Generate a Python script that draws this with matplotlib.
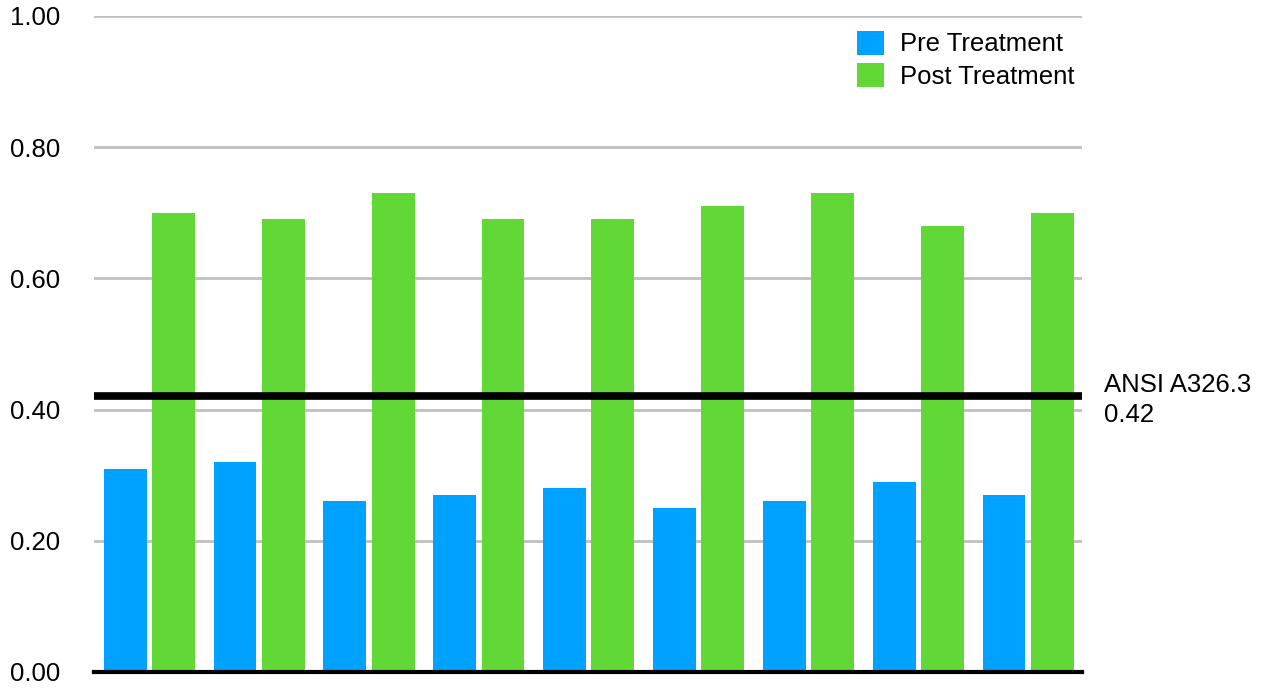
import numpy as np
import matplotlib.pyplot as plt
import matplotlib.transforms as mtransforms

plt.rcParams['font.family'] = ['Liberation Sans', 'DejaVu Sans']

samples = ["1", "2", "3", "4", "5", "6", "7", "8", "9"]
pre = [0.31, 0.32, 0.26, 0.27, 0.28, 0.25, 0.26, 0.29, 0.27]
post = [0.70, 0.69, 0.73, 0.69, 0.69, 0.71, 0.73, 0.68, 0.70]
ansi_value = 0.42
ansi_label = "ANSI A326.3"
yticks = [0.0, 0.2, 0.4, 0.6, 0.8, 1.0]

fs = 18.5

fig = plt.figure(figsize=(12.69, 6.91), dpi=100)
ax = fig.add_axes([0.074, 0.0275, 0.779, 0.9495])

x = np.arange(len(samples))
w = 0.39
ax.bar(x - 0.215, pre, w, color="#00A2FF", label="Pre Treatment", zorder=3)
ax.bar(x + 0.225, post, w, color="#61D836", label="Post Treatment", zorder=3)

ax.axhline(ansi_value, color="black", lw=5.5, zorder=4)
trans = mtransforms.blended_transform_factory(ax.transAxes, ax.transData)
ax.text(1.022, ansi_value - 0.005, f"{ansi_label}\n{ansi_value:.2f}", transform=trans,
        fontsize=fs, va="center", ha="left", linespacing=1.3)

ax.set_xlim(-0.5, len(samples) - 0.5)
ax.set_ylim(0, 1.0)
ax.set_yticks(yticks)
ax.set_yticklabels([f"{v:.2f}" for v in yticks], fontsize=fs)
ax.set_xticks([])
ax.tick_params(axis="y", length=0, pad=24)
ax.grid(axis="y", color="#c0c0c0", lw=2, zorder=0)
for s in ["top", "right", "left"]:
    ax.spines[s].set_visible(False)
ax.spines["bottom"].set_color("black")
ax.spines["bottom"].set_linewidth(3)
ax.spines["bottom"].set_zorder(5)

ax.legend(loc="upper right", bbox_to_anchor=(1.005, 0.997), frameon=False, fontsize=fs,
          borderpad=0, handlelength=1.05, handleheight=1.05, handletextpad=0.62,
          labelspacing=0.26)

fig.savefig("out.png", dpi=100)
